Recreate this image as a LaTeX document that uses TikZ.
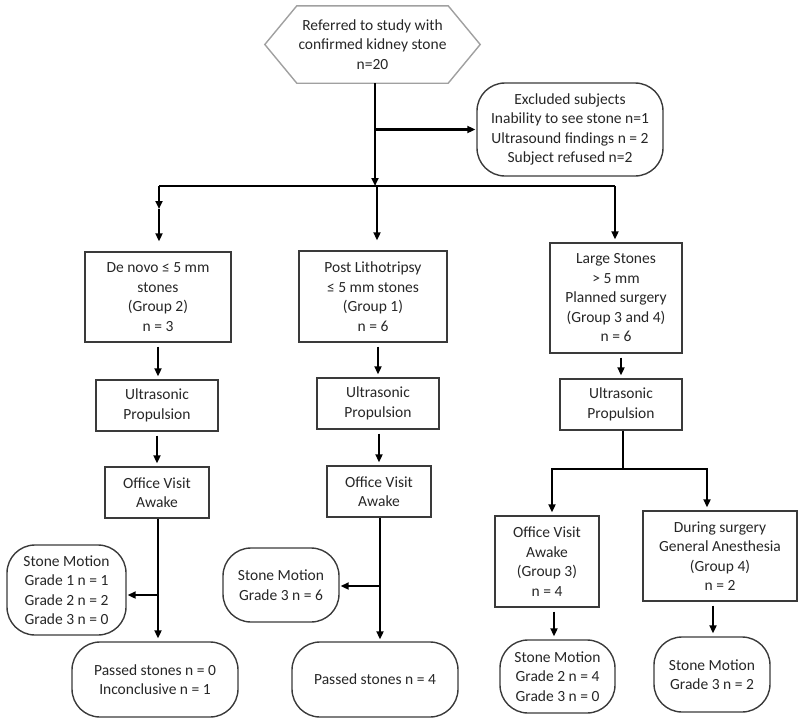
\documentclass[tikz,border=0pt]{standalone}
\usepackage{fontspec}
\setmainfont{Carlito}
\usetikzlibrary{arrows.meta,calc}
\definecolor{boxline}{HTML}{3A3A3A}
\definecolor{hexline}{HTML}{A0A0A0}
\tikzset{
  txt/.style={align=center,inner sep=0pt,font=\fontsize{15.5}{19.5}\selectfont,text=black!85},
  sqbox/.style={txt,draw=boxline,line width=1.4pt,rectangle},
  rndbox/.style={txt,draw=boxline,line width=1.4pt,rectangle,rounded corners=28pt},
  conn/.style={line width=2.4pt,black},
  arr/.style={conn,-{Triangle[length=8pt,width=7pt]},shorten >=3pt,shorten <=4pt},
  arrn/.style={conn,-{Triangle[length=8pt,width=7pt]}},
}
\begin{document}
\begin{tikzpicture}[x=1pt,y=-1pt]
\useasboundingbox (0,0) rectangle (800,720);
% nodes
\node[txt,minimum width=215pt,minimum height=77pt] (hex) at (372.5,44.5)
  {Referred to study with\\confirmed kidney stone\\n=20};
\draw[hexline,line width=1.4pt] (hex.west) -- ([xshift=32pt]hex.north west) -- ([xshift=-32pt]hex.north east)
  -- (hex.east) -- ([xshift=-32pt]hex.south east) -- ([xshift=32pt]hex.south west) -- cycle;
\node[rndbox,minimum width=186pt,minimum height=93pt] (excl) at (570,129.5)
  {Excluded subjects\\Inability to see stone n=1\\Ultrasound findings n = 2\\Subject refused n=2};
\node[sqbox,minimum width=146pt,minimum height=90pt] (g2) at (158,297)
  {De novo ≤ 5 mm\\stones\\(Group 2)\\n = 3};
\node[sqbox,minimum width=148pt,minimum height=91pt] (g1) at (373,296.5)
  {Post Lithotripsy\\≤ 5 mm stones\\(Group 1)\\n = 6};
\node[sqbox,minimum width=132pt,minimum height=110pt] (lg) at (616,298)
  {Large Stones\\> 5 mm\\Planned surgery\\(Group 3 and 4)\\n = 6};
\node[sqbox,minimum width=122pt,minimum height=51pt] (uL) at (157,405.5) {Ultrasonic\\Propulsion};
\node[sqbox,minimum width=122pt,minimum height=51pt] (uM) at (378,403.5) {Ultrasonic\\Propulsion};
\node[sqbox,minimum width=122pt,minimum height=51pt] (uR) at (621,404.5) {Ultrasonic\\Propulsion};
\node[sqbox,minimum width=104pt,minimum height=51pt] (oL) at (157,492.5) {Office Visit\\Awake};
\node[sqbox,minimum width=104pt,minimum height=51pt] (oM) at (379,491.5) {Office Visit\\Awake};
\node[sqbox,minimum width=104pt,minimum height=91pt] (oR) at (547,561.5) {Office Visit\\Awake\\(Group 3)\\n = 4};
\node[sqbox,minimum width=154pt,minimum height=90pt] (surg) at (720,556)
  {During surgery\\General Anesthesia\\(Group 4)\\n = 2};
\node[rndbox,minimum width=119pt,minimum height=90pt] (smL) at (66.5,590)
  {Stone Motion\\Grade 1 n = 1\\Grade 2 n = 2\\Grade 3 n = 0};
\node[rndbox,minimum width=166pt,minimum height=75pt] (passL) at (155,679.5)
  {Passed stones n = 0\\Inconclusive n = 1};
\node[rndbox,minimum width=116pt,minimum height=74pt] (smM) at (281,585)
  {Stone Motion\\Grade 3 n = 6};
\node[rndbox,minimum width=166pt,minimum height=75pt] (passM) at (375,679.5)
  {Passed stones n = 4};
\node[rndbox,minimum width=115pt,minimum height=73pt] (smR1) at (557.5,676.5)
  {Stone Motion\\Grade 2 n = 4\\Grade 3 n = 0};
\node[rndbox,minimum width=116pt,minimum height=75pt] (smR2) at (712,674.5)
  {Stone Motion\\Grade 3 n = 2};
% junctions
\coordinate (jTop) at (375,186);
\coordinate (jL) at (159,186);
\coordinate (jLm) at (159,209);
\coordinate (jM) at (377,186);
\coordinate (jR) at (615,186);
\coordinate (bL) at (158,595);
\coordinate (bM) at (380,586);
\coordinate (jRR) at (623,469);
\coordinate (jR3L) at (552,469);
\coordinate (jR3R) at (707,469);
% connectors
\draw[arrn] (jTop |- hex.south) -- (jTop);
\draw[arrn,shorten >=1pt] (jTop |- excl.west) -- (excl.west);
\draw[conn] (jL) -- (jR);
\draw[arrn] (jL) -- (jLm);
\draw[arrn,shorten >=10pt] (jLm) -- (jL |- g2.north);
\draw[arrn,shorten >=10pt] (jM) -- (jM |- g1.north);
\draw[arrn,shorten >=3pt] (jR) -- (jR |- lg.north);
\draw[arr] (g2.south) -- (g2.south |- uL.north);
\draw[arr] (uL.south) -- (oL.north);
\draw[arr] (uM.north |- g1.south) -- (uM.north);
\draw[arr] (uM.south -| oM.north) -- (oM.north);
\draw[arr] (uR.north |- lg.south) -- (uR.north);
% left column lower
\draw[arrn,shorten >=3pt] (bL |- oL.south) -- (bL |- passL.north);
\draw[arrn,shorten >=1pt] (bL) -- (bL -| smL.east);
% middle column lower
\draw[arrn,shorten >=2pt] (bM |- oM.south) -- (bM |- passM.north);
\draw[arrn,shorten >=1pt] (bM) -- (bM -| smM.east);
% right column lower
\draw[conn,line width=2.8pt] (jRR |- uR.south) -- (jRR);
\draw[arrn,shorten >=3pt] (jRR) -- (jR3L) -- (jR3L |- oR.north);
\draw[arrn,shorten >=3pt] (jRR) -- (jR3R) -- (jR3R |- surg.north);
\draw[arr] (oR.south -| 554,0) -- (smR1.north -| 554,0);
\draw[arr] (surg.south -| 713,0) -- (smR2.north -| 713,0);
\end{tikzpicture}
\end{document}
